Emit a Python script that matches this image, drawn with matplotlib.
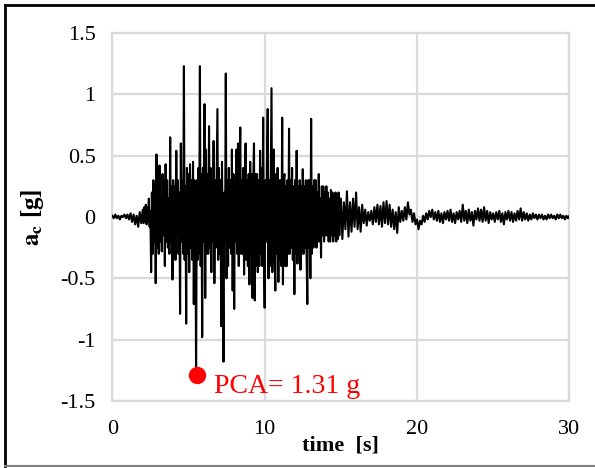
import numpy as np
import matplotlib
matplotlib.use('Agg')
import matplotlib.pyplot as plt
from matplotlib.lines import Line2D

plt.rcParams['font.family'] = ['Liberation Serif', 'DejaVu Serif']
plt.rcParams['mathtext.fontset'] = 'stix'

# acceleration record [g]
# 0 - 2 s, every 0.1 s
acc_pre = [
    0.01, -0.01, 0.02, -0.01, 0.01, -0.02, 0.01, 0.00, 0.02, -0.01,
    0.02, -0.02, 0.03, -0.04, 0.02, -0.06, 0.01, -0.08, 0.04, -0.05,
]
# 2 - 15 s, every 0.05 s (one row = 0.5 s)
acc_strong = [
    0.06, -0.05, 0.08, -0.04, 0.10, -0.06, 0.08, -0.03, 0.15, -0.08,
    0.05, -0.45, 0.20, -0.30, 0.30, -0.20, 0.25, -0.54, 0.51, -0.25,
    0.25, -0.30, 0.42, -0.20, 0.15, -0.28, 0.35, -0.15, 0.30, -0.40,
    0.43, -0.20, 0.30, -0.25, 0.15, -0.30, 0.65, -0.20, 0.25, -0.51,
    0.30, -0.20, 0.25, -0.35, 0.54, -0.15, 0.30, -0.30, 0.20, -0.79,
    0.60, -0.20, 0.30, -0.30, 1.23, -0.35, 0.25, -0.87, 0.40, -0.30,
    0.35, -0.45, 0.43, -0.25, 0.30, -0.35, 0.45, -0.71, 0.30, 0.25,
    -1.31, 0.30, -0.35, 0.40, -0.30, 1.23, -0.40, 0.35, -0.98, 0.40,
    -0.20, 0.92, -0.66, 0.55, -0.30, 0.35, -0.30, 0.74, -0.25, 0.40,
    -0.45, 0.30, -0.20, 0.62, -0.54, 0.30, -0.25, 0.35, 0.88, -0.35,
    0.40, -0.30, 0.30, -0.89, 0.45, -0.30, -1.18, 0.20, -0.20, 1.17,
    -0.50, 0.30, -0.40, 0.40, -0.25, 0.30, -0.30, 0.55, -0.60, 0.35,
    -0.75, 0.30, -0.20, 0.55, -0.30, 0.60, -0.40, 0.30, 0.73, -0.30,
    0.30, -0.30, 0.40, -0.47, 0.25, 0.60, -0.35, 0.30, -0.40, 0.35,
    -0.55, 0.45, -0.30, 0.35, -0.66, 0.30, 0.60, -0.68, 0.35, -0.40,
    0.35, -0.45, 0.30, -0.40, 0.54, -0.30, 0.40, -0.40, 0.81, -0.30,
    -0.74, 0.30, -0.20, 0.40, 0.88, -0.50, 0.30, -0.40, 0.35, 1.05,
    -0.45, 0.30, 0.55, -0.30, -0.60, 0.35, -0.30, 0.40, -0.53, 0.30,
    -0.35, 0.30, -0.40, 0.81, -0.55, 0.30, 0.35, -0.40, 0.25, -0.40,
    0.30, -0.30, 0.72, -0.30, 0.30, -0.25, 0.40, -0.35, 0.25, -0.63,
    0.30, -0.30, 0.54, -0.38, 0.25, -0.30, 0.30, -0.43, 0.25, -0.30,
    0.39, -0.30, 0.25, -0.25, 0.30, -0.30, -0.71, 0.30, -0.25, 0.30,
    -0.50, 0.80, -0.30, 0.25, -0.25, 0.30, -0.20, 0.30, -0.25, 0.20,
    -0.20, 0.35, -0.20, 0.15, -0.33, 0.25, -0.15, 0.25, -0.20, 0.20,
    -0.15, 0.25, -0.15, 0.20, -0.20, 0.15, -0.20, 0.22, -0.15, 0.20,
    -0.20, 0.18, -0.15, 0.20, -0.20, 0.15, -0.18, 0.20, -0.15, 0.15,
]
# 15 - 30 s, every 0.1 s (one row = 1 s)
acc_tail = [
    0.15, -0.18, 0.12, -0.10, 0.21, -0.16, 0.12, -0.12, 0.15, -0.08,
    0.20, -0.10, 0.08, -0.12, 0.10, -0.05, 0.06, -0.07, 0.04, -0.03,
    0.05, -0.06, 0.08, -0.04, 0.10, -0.06, 0.09, -0.08, 0.12, -0.05,
    0.13, -0.06, 0.10, -0.08, 0.06, -0.10, 0.04, -0.13, 0.08, -0.04,
    0.05, -0.03, 0.08, -0.02, 0.12, 0.02, 0.06, -0.04, 0.03, -0.06,
    -0.02, -0.10, -0.03, -0.06, 0.01, -0.04, 0.03, -0.02, 0.05, 0.00,
    0.06, -0.02, 0.04, -0.03, 0.05, -0.04, 0.03, -0.05, 0.04, -0.02,
    0.05, -0.03, 0.06, -0.04, 0.03, -0.05, 0.04, -0.02, 0.05, -0.04,
    0.10, -0.03, 0.05, -0.05, 0.06, -0.03, 0.04, -0.07, 0.05, -0.02,
    0.07, -0.03, 0.06, -0.04, 0.08, -0.03, 0.05, -0.05, 0.04, -0.02,
    0.03, -0.04, 0.04, -0.02, 0.05, -0.04, 0.03, -0.06, 0.04, -0.02,
    0.05, -0.03, 0.04, -0.04, 0.03, -0.03, 0.05, -0.02, 0.07, -0.03,
    0.04, -0.02, 0.03, -0.03, 0.02, -0.02, 0.03, -0.01, 0.02, -0.02,
    0.02, -0.01, 0.02, -0.02, 0.01, -0.02, 0.02, -0.01, 0.02, -0.01,
    0.01, -0.02, 0.02, -0.01, 0.02, -0.01, 0.01, -0.02, 0.01, -0.01,
    0.01,
]
time = np.concatenate([
    np.arange(len(acc_pre)) * 0.1,
    2 + np.arange(len(acc_strong)) * 0.05,
    15 + np.arange(len(acc_tail)) * 0.1,
])
acc = np.array(acc_pre + acc_strong + acc_tail)

pca_t = 5.53
pca_val = -1.29
pca_label = 'PCA= 1.31 g'

xticks = [0, 10, 20, 30]
yticks = [-1.5, -1, -0.5, 0, 0.5, 1, 1.5]
ytick_labels = ['-1.5', '-1', '-0.5', '0', '0.5', '1', '1.5']

fig = plt.figure(figsize=(5.95, 4.68), dpi=100)
ax = fig.add_axes([0.1887, 0.1432, 0.7683, 0.7863])

grid_c = '#d9d9d9'
ax.plot(time, acc, color='black', lw=1.5, zorder=3)
ax.plot([pca_t], [pca_val], 'o', color='red', ms=11.5, zorder=4)
ax.text(6.7, -1.435, pca_label, color='red', fontsize=20, ha='left', va='baseline')

ax.set_xlim(0, 30)
ax.set_ylim(-1.5, 1.5)
ax.set_xticks(xticks)
ax.set_yticks(yticks)
ax.set_yticklabels(ytick_labels)
ax.tick_params(length=0, labelsize=16)
ax.tick_params(axis='y', pad=12)
ax.tick_params(axis='x', pad=14)
ax.grid(True, color=grid_c, lw=1.6)
ax.set_axisbelow(True)
for s in ax.spines.values():
    s.set_color(grid_c)
    s.set_linewidth(1.6)

ax.set_xlabel('time  [s]', fontsize=16, fontweight='bold', labelpad=-3)
ax.set_ylabel(r'$\mathbf{a_c}$ [g]', fontsize=18, fontweight='bold', labelpad=10)

# outer chart frame
fig.add_artist(Line2D([5 / 595, 1], [1 - 5 / 468, 1 - 5 / 468], color='black', lw=2, transform=fig.transFigure))
fig.add_artist(Line2D([5 / 595, 5 / 595], [1 - 5 / 468, 1 - 466 / 468], color='black', lw=2, transform=fig.transFigure))
fig.add_artist(Line2D([5 / 595, 1], [1 - 466 / 468, 1 - 466 / 468], color='#808080', lw=1.5, transform=fig.transFigure))

fig.savefig('out.png', dpi=100)
